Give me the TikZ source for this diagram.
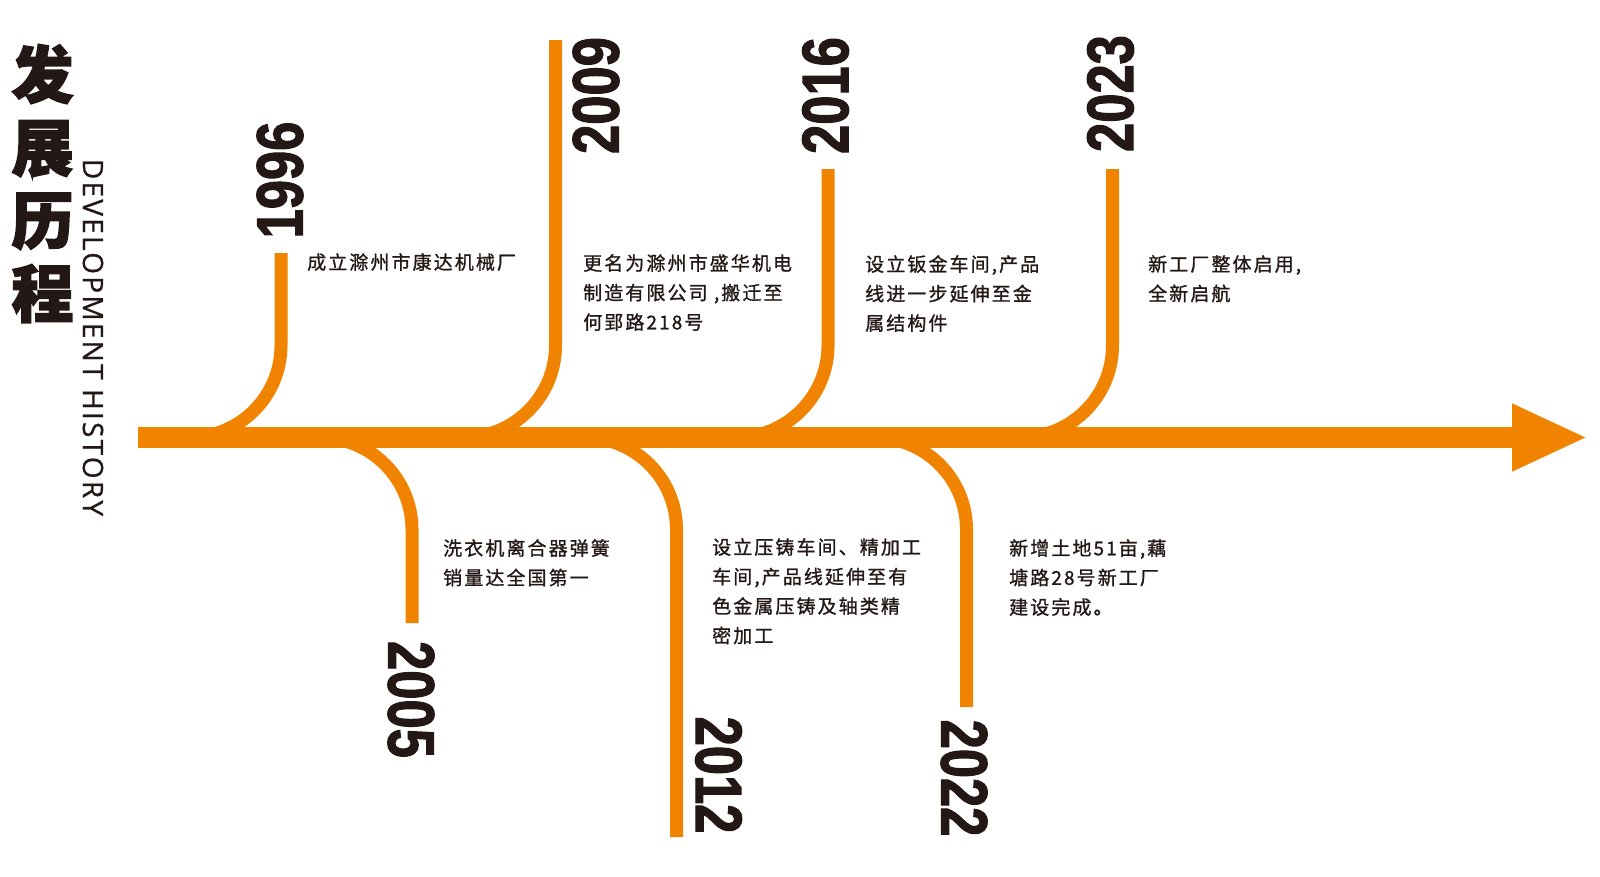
\documentclass[tikz,border=0pt]{standalone}
\usepackage{fontspec}
\usetikzlibrary{arrows.meta}
\setmainfont{Liberation Sans}
\newfontfamily\cjk{Noto Sans CJK SC}[LetterSpace=11, FakeBold=1.1]
\newfontfamily\cjktitle{Noto Sans CJK SC}[FakeBold=2.5]
\newfontfamily\yearfont{Liberation Sans}[FakeBold=2]
\newfontfamily\engfont{Open Sans}[LetterSpace=8, FakeBold=0.8]
\definecolor{brand}{HTML}{F08300}
\definecolor{ink}{HTML}{231815}
\newcommand\yr[1]{\scalebox{0.8}[1]{#1}}

\begin{document}
\begin{tikzpicture}[x=1pt, y=-1pt,
    branch/.style={draw=brand, line width=13pt, rounded corners=92pt},
    yearlabel/.style={inner sep=0pt, text=ink, font=\yearfont\bfseries\fontsize{65.6}{66}\selectfont},
    note/.style={anchor=north west, inner sep=0pt, align=left, text=ink, font=\cjk\fontsize{19}{29.5}\selectfont}]
    \useasboundingbox (0,0) rectangle (1600,876);

    % title
    \node[inner sep=0pt, align=center, text=ink, font=\cjktitle\bfseries\fontsize{62}{73}\selectfont] (title) at (42.5,183.5) {发\\展\\历\\程};
    \node[inner sep=0pt, text=ink, rotate=-90, font=\engfont\fontsize{28}{28}\selectfont] (subtitle) at (93,337.5) {DEVELOPMENT HISTORY};

    % branches above the axis
    \coordinate (j1996) at (281,437.5);
    \coordinate (e1996) at (281,253);
    \coordinate (j2009) at (555.5,437.5);
    \coordinate (e2009) at (555.5,40);
    \coordinate (j2016) at (828,437.5);
    \coordinate (e2016) at (828,169);
    \coordinate (j2023) at (1112.5,437.5);
    \coordinate (e2023) at (1112.5,169);
    \draw[branch] ([xshift=-110pt]j1996) -- (j1996) -- (e1996);
    \draw[branch] ([xshift=-110pt]j2009) -- (j2009) -- (e2009);
    \draw[branch] ([xshift=-110pt]j2016) -- (j2016) -- (e2016);
    \draw[branch] ([xshift=-110pt]j2023) -- (j2023) -- (e2023);

    % branches below the axis
    \coordinate (j2005) at (412,437.5);
    \coordinate (e2005) at (412,623);
    \coordinate (j2012) at (676.5,437.5);
    \coordinate (e2012) at (676.5,837);
    \coordinate (j2022) at (966.5,437.5);
    \coordinate (e2022) at (966.5,707);
    \draw[branch] ([xshift=-110pt]j2005) -- (j2005) -- (e2005);
    \draw[branch] ([xshift=-110pt]j2012) -- (j2012) -- (e2012);
    \draw[branch] ([xshift=-110pt]j2022) -- (j2022) -- (e2022);

    % axis
    \coordinate (start) at (138,437.5);
    \coordinate (tip) at (1588,437.5);
    \draw[brand, line width=21pt, -{Triangle[length=76pt, width=62pt]}] (start) -- (tip);

    % years
    \node[yearlabel, rotate=90] (y1996) at (280,180) {\yr{1996}};
    \node[yearlabel, rotate=90] (y2009) at (596,95.5) {\yr{2009}};
    \node[yearlabel, rotate=90] (y2016) at (825.5,95.5) {\yr{2016}};
    \node[yearlabel, rotate=90] (y2023) at (1110.5,93.5) {\yr{2023}};
    \node[yearlabel, rotate=-90] (y2005) at (411,699.5) {\yr{2005}};
    \node[yearlabel, rotate=-90] (y2012) at (718.5,775) {\yr{2012}};
    \node[yearlabel, rotate=-90] (y2022) at (964,778) {\yr{2022}};

    % events
    \node[note] (t1996) at (307,253) {成立滁州市康达机械厂};
    \node[note] (t2009) at (583,254) {更名为滁州市盛华机电\\制造有限公司 ,搬迁至\\何郢路218号};
    \node[note] (t2016) at (865,255) {设立钣金车间,产品\\线进一步延伸至金\\属结构件};
    \node[note] (t2023) at (1148,255) {新工厂整体启用,\\全新启航};
    \node[note] (t2005) at (443,539) {洗衣机离合器弹簧\\销量达全国第一};
    \node[note] (t2012) at (712,538) {设立压铸车间、精加工\\车间,产品线延伸至有\\色金属压铸及轴类精\\密加工};
    \node[note] (t2022) at (1009,539) {新增土地51亩,藕\\塘路28号新工厂\\建设完成。};
\end{tikzpicture}
\end{document}
